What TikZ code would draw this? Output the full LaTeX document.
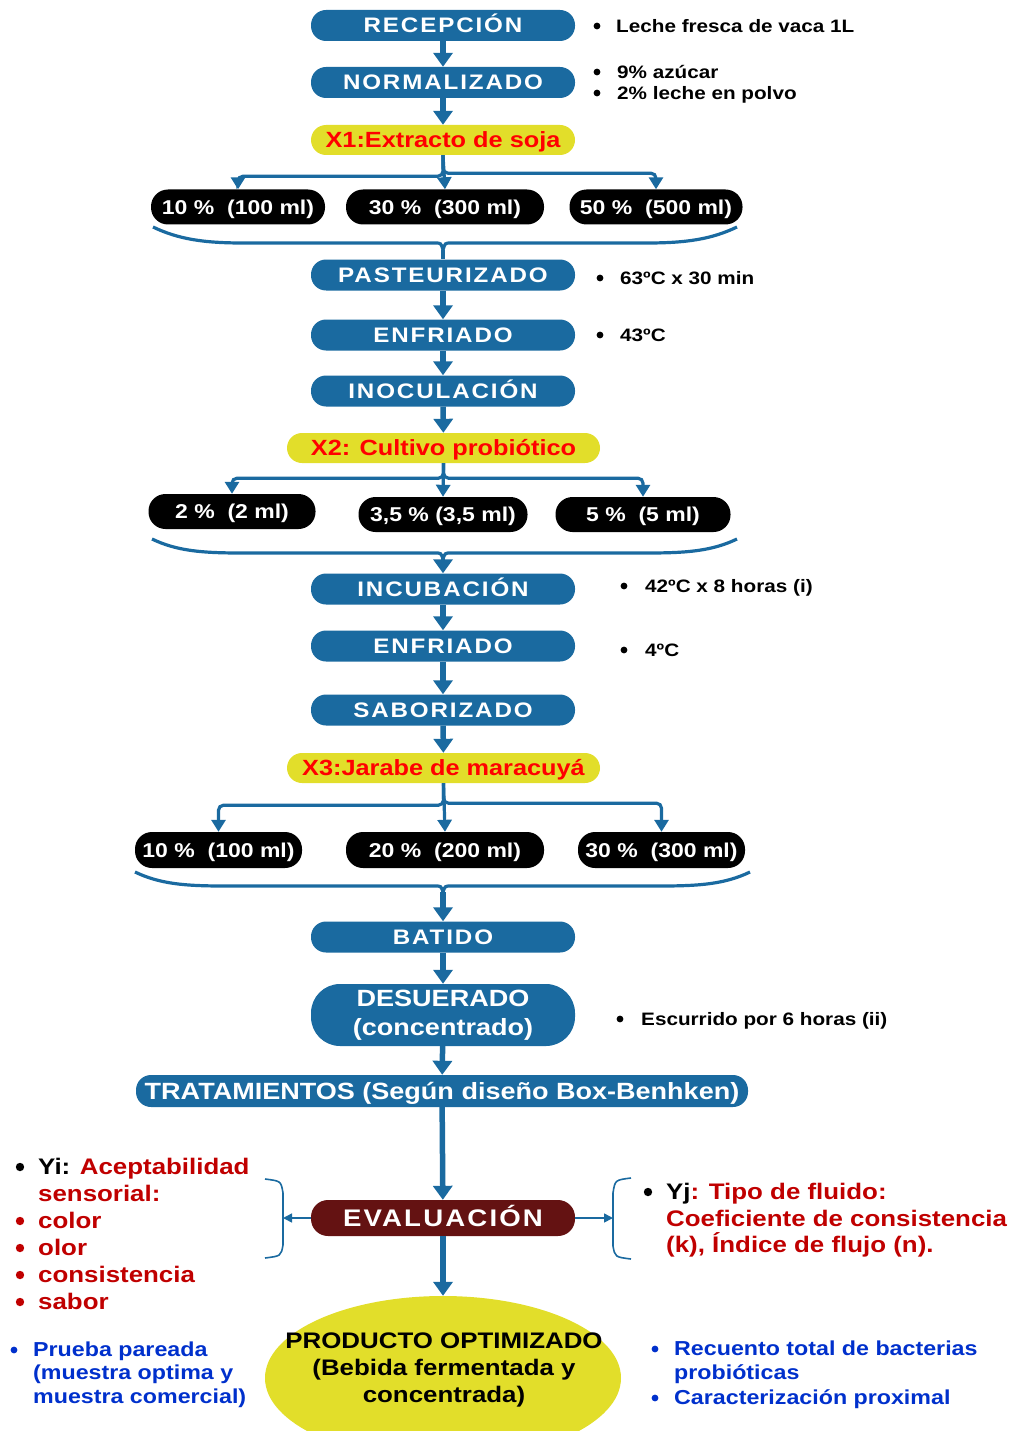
\documentclass[tikz,border=0pt]{standalone}
\usepackage{fontspec}
\setmainfont{Liberation Sans}[FakeStretch=1.15]
\newfontfamily\boxfont{Liberation Sans}[FakeStretch=1.15,LetterSpace=9]
\usetikzlibrary{arrows.meta,calc,shapes.geometric}
\definecolor{bl}{RGB}{26,106,160}
\definecolor{yl}{RGB}{226,222,42}
\definecolor{dr}{RGB}{192,0,0}
\definecolor{ev}{RGB}{100,18,18}
\definecolor{tb}{RGB}{0,48,204}
\newcommand\drawbrace[5]{%
  \draw[bracepath] (#1,#3) .. controls ({#1+25},{#3+12}) and ({#1+50},#4) .. ({#1+90},#4) -- (435,#4)
    .. controls (441,#4) .. (443,#5) .. controls (445,#4) .. (451,#4) -- ({#2-90},#4)
    .. controls ({#2-50},#4) and ({#2-25},{#3+12}) .. (#2,#3);}
\begin{document}
\begin{tikzpicture}[x=1pt,y=-1pt,
  proc/.style={fill=bl, rounded corners=15pt, minimum width=264pt, minimum height=31pt, inner sep=0pt,
    text=white, text height=15pt, text depth=0pt, font={\boxfont\bfseries\fontsize{21}{24}\selectfont}},
  ylw/.style={fill=yl, rounded corners=15pt, minimum height=30pt, inner sep=0pt,
    text=red, text height=15.8pt, text depth=0pt, font={\bfseries\fontsize{22}{25}\selectfont}},
  pill/.style={fill=black, rounded corners=17pt, minimum height=35pt, inner sep=0pt,
    text=white, text height=14.3pt, text depth=0pt, font={\bfseries\fontsize{20}{23}\selectfont}},
  arr/.style={draw=bl, line width=5.5pt, -{Triangle[width=19pt,length=14pt]}},
  sarr/.style={draw=bl, line width=3.2pt, rounded corners=5pt, -{Triangle[width=14pt,length=12pt]}},
  tarr/.style={draw=bl, line width=1.5pt, -{Triangle[width=9pt,length=9pt]}},
  bracepath/.style={draw=bl, line width=3.2pt},
  thinbr/.style={draw=bl, line width=1.6pt},
  note/.style={anchor=west, inner sep=0pt, text height=12.9pt, text depth=0pt, font={\bfseries\fontsize{18}{21}\selectfont}},
  big/.style={anchor=west, inner sep=0pt, text height=16.1pt, text depth=0pt, font={\bfseries\fontsize{22.5}{26}\selectfont}},
  blt/.style={anchor=west, inner sep=0pt, text height=14.5pt, text depth=0pt, text=tb, font={\bfseries\fontsize{20.2}{24}\selectfont}},
  prodt/.style={inner sep=0pt, text height=16.1pt, text depth=0pt, font={\bfseries\fontsize{22.5}{26}\selectfont}}
]
\useasboundingbox (0,0) rectangle (1013,1431);
\begin{scope}
\clip (0,0) rectangle (1013,1431);
\node[ellipse, fill=yl, minimum width=356pt, minimum height=164pt, inner sep=0pt] (prod) at (443,1378) {};
\end{scope}

% main column
\node[proc] (rec) at (443,25.5) {RECEPCIÓN};
\node[proc] (nor) at (443,82.5) {NORMALIZADO};
\node[ylw, minimum width=264pt] (x1) at (443,140) {X1:Extracto de soja};
\node[pill, minimum width=174pt] (pa1) at (238,207) {10 \%~~(100 ml)};
\node[pill, minimum width=198pt] (pa2) at (445,207) {30 \%~~(300 ml)};
\node[pill, minimum width=173pt] (pa3) at (656,207) {50 \%~~(500 ml)};
\node[proc] (pas) at (443,275) {PASTEURIZADO};
\node[proc] (enf) at (443,335) {ENFRIADO};
\node[proc] (ino) at (443,391) {INOCULACIÓN};
\node[ylw, minimum width=313pt] (x2) at (443.5,448) {X2: Cultivo probiótico};
\node[pill, minimum width=167pt] (pb1) at (232,511.5) {2 \%~~(2 ml)};
\node[pill, minimum width=169pt] (pb2) at (443,514.5) {3,5 \% (3,5 ml)};
\node[pill, minimum width=175pt] (pb3) at (643,514.5) {5 \%~~(5 ml)};
\node[proc] (inc) at (443,589) {INCUBACIÓN};
\node[proc] (enf2) at (443,646) {ENFRIADO};
\node[proc] (sab) at (443,710) {SABORIZADO};
\node[ylw, minimum width=313pt] (x3) at (443.5,768) {X3:Jarabe de maracuyá};
\node[pill, minimum width=167pt, minimum height=36pt] (pc1) at (218.5,850) {10 \%~~(100 ml)};
\node[pill, minimum width=198pt, minimum height=36pt] (pc2) at (445,850) {20 \%~~(200 ml)};
\node[pill, minimum width=167pt, minimum height=36pt] (pc3) at (661.5,850) {30 \%~~(300 ml)};
\node[proc] (bat) at (443,937) {BATIDO};
\node[proc, minimum height=62pt, rounded corners=29pt, text height=, text depth=, align=center,
  font={\bfseries\fontsize{23.5}{29}\selectfont}] (des) at (443,1015) {DESUERADO\\(concentrado)};
\node[proc, minimum width=612pt, minimum height=32pt, text height=16.8pt, font={\bfseries\fontsize{23.5}{27}\selectfont}] (tra) at (442,1091) {TRATAMIENTOS (Según diseño Box-Benhken)};
\node[proc, fill=ev, minimum height=36pt, rounded corners=17pt, text height=17.2pt, font={\boxfont\bfseries\fontsize{24}{27}\selectfont}] (eva) at (443,1218) {EVALUACIÓN};

% arrows main
\draw[arr] (rec) -- (nor);
\draw[arr] (nor) -- (x1);
\draw[arr] (pas) -- (enf);
\draw[arr] (enf) -- (ino);
\draw[arr] (ino) -- (x2);
\draw[arr] (inc) -- (enf2);
\draw[arr] (enf2) -- (sab);
\draw[arr] (sab) -- (x3);
\draw[arr] (bat) -- (des);
\draw[arr] (des) -- (tra);
\draw[arr] (tra) -- (eva);
\draw[arr] (eva) -- (prod);

% split arrows
\draw[sarr] (x1.south) -- ++(0,21) -| (pa1.north);
\draw[sarr] (x1.south) -- ++(0,18) -| (pa3.north);
\draw[sarr] (x1.south) -- (pa2.north);
\draw[sarr] (x2.south) -- ++(0,15) -| (pb1.north);
\draw[sarr] (x2.south) -- ++(0,15) -| (pb3.north);
\draw[sarr] (x2.south) -- (pb2.north);
\draw[sarr] (x3.south) -- ++(0,22) -| (pc1.north);
\draw[sarr] (x3.south) -- ++(0,20) -| (pc3.north);
\draw[sarr] (x3.south) -- (pc2.north);

% braces
\drawbrace{153}{737}{227}{243}{250}
\coordinate (t1) at (443,250);
\draw[bracepath] (t1) -- (pas.north);
\drawbrace{152}{737}{539}{553}{559}
\coordinate (t2) at (443,559);
\draw[arr, line width=4pt] (t2) -- (inc.north);
\drawbrace{135}{750}{872}{886}{892}
\coordinate (t3) at (443,892);
\draw[arr] (t3) -- (bat.north);

% side brackets at evaluation
\draw[thinbr] (265,1179) .. controls (281,1181) .. (283,1193) -- (283,1245) .. controls (281,1256) .. (265,1258);
\coordinate (lb) at (283,1218);
\draw[tarr] (eva.west) -- (lb);
\draw[thinbr] (631,1178) .. controls (615,1180) .. (613,1193) -- (613,1246) .. controls (615,1257) .. (631,1259);
\coordinate (rb) at (613,1218);
\draw[tarr] (eva.east) -- (rb);

% notes right of process
\fill (597,26) circle (3.4pt);
\node[note] (n1) at (616,26) {Leche fresca de vaca 1L};
\fill (597,72) circle (3.4pt);
\node[note] (n2) at (617,72) {9\% azúcar};
\fill (597,93) circle (3.4pt);
\node[note] (n3) at (617,93) {2\% leche en polvo};
\fill (600,278) circle (3.4pt);
\node[note] (n4) at (620,278) {63ºC x 30 min};
\fill (600,335) circle (3.4pt);
\node[note] (n5) at (620,335) {43ºC};
\fill (624,586) circle (3.4pt);
\node[note] (n6) at (645,586) {42ºC x 8 horas (i)};
\fill (624,650) circle (3.4pt);
\node[note] (n7) at (645,650) {4ºC};
\fill (620,1019) circle (3.4pt);
\node[note] (n8) at (641,1019) {Escurrido por 6 horas (ii)};

% left Yi list
\fill (20,1167) circle (4.2pt);
\node[big] (yi1) at (38,1166) {Yi: \textcolor{dr}{Aceptabilidad}};
\node[big, text=dr] (yi2) at (38,1193) {sensorial:};
\fill[dr] (20,1221) circle (4.2pt);
\node[big, text=dr] (yi3) at (38,1220) {color};
\fill[dr] (20,1248) circle (4.2pt);
\node[big, text=dr] (yi4) at (38,1247) {olor};
\fill[dr] (20,1275) circle (4.2pt);
\node[big, text=dr] (yi5) at (38,1274) {consistencia};
\fill[dr] (20,1302) circle (4.2pt);
\node[big, text=dr] (yi6) at (38,1301) {sabor};

% right Yj
\fill (648,1192) circle (4.2pt);
\node[big] (yj1) at (666,1191) {Yj\textcolor{dr}{: Tipo de fluido:}};
\node[big, text=dr] (yj2) at (666,1218) {Coeficiente de consistencia};
\node[big, text=dr] (yj3) at (666,1244) {(k), Índice de flujo (n).};

% product text
\node[prodt] (pt1) at (444,1340) {PRODUCTO OPTIMIZADO};
\node[prodt] (pt2) at (444,1367) {(Bebida fermentada y};
\node[prodt] (pt3) at (444,1394) {concentrada)};

% bottom blue notes
\fill[tb] (14,1350) circle (3.4pt);
\node[blt] (bl1) at (33,1349) {Prueba pareada};
\node[blt] (bl2) at (33,1372) {(muestra optima y};
\node[blt] (bl3) at (33,1396) {muestra comercial)};
\fill[tb] (655,1349) circle (3.4pt);
\node[blt] (br1) at (674,1348) {Recuento total de bacterias};
\node[blt] (br2) at (674,1372) {probióticas};
\fill[tb] (655,1398) circle (3.4pt);
\node[blt] (br3) at (674,1397) {Caracterización proximal};
\end{tikzpicture}
\end{document}
